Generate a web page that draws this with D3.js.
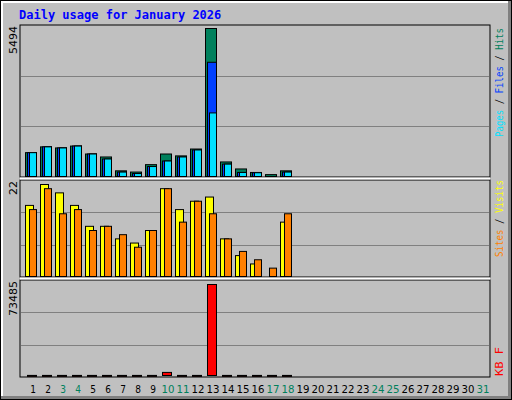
<!DOCTYPE html><html><head><script src="https://cdn.jsdelivr.net/npm/d3@7"></script>
<style>body{margin:0;background:#fff}</style></head><body><svg id="c" width="512" height="400"></svg>
<script>
const days=d3.range(1,32);
const weekend=[3,4,10,11,17,18,24,25,31];
const hits=[885,1100,1060,1130,835,725,210,165,440,835,765,1020,5494,540,280,150,70,210];
const files=[885,1100,1060,1130,835,650,165,110,370,575,725,985,4240,460,150,140,0,165];
const pages=[885,1100,1060,1130,835,650,165,110,370,575,725,985,2360,460,150,140,0,165];
const visits=[17,22,20,17,12,12,9,8,11,21,16,18,19,9,5,3,0,13];
const sites=[16,21,15,16,11,12,10,7,11,21,13,18,15,9,6,4,2,15];
const kbytes=[80,80,80,80,80,80,80,80,80,2500,80,80,73485,80,80,80,80,80];
const maxLabels=["5494","22","73485"];
const svg=d3.select("#c");
svg.append("rect").attr("x",0).attr("y",0).attr("width",512).attr("height",400).attr("fill","#000");
svg.append("rect").attr("x",1).attr("y",1).attr("width",510).attr("height",398).attr("fill","#808080");
svg.append("rect").attr("x",1).attr("y",1).attr("width",507).attr("height",395).attr("fill","#fff");
svg.append("rect").attr("x",3).attr("y",3).attr("width",505).attr("height",393).attr("fill","#c0c0c0");
svg.append("text").attr("x",19).attr("y",19).attr("fill","#0000ff").attr("font-family","DejaVu Sans Mono").attr("font-weight","bold").attr("font-size",12).text("Daily usage for January 2026");
const x=d3.scaleLinear().domain([1,31]).range([33,483]);
const L=20,R=490;
const panels=[{t:25,b:177},{t:180,b:277},{t:280,b:377}];
panels.forEach((p,i)=>{
  svg.append("rect").attr("x",L).attr("y",p.t).attr("width",R-L).attr("height",p.b-p.t).attr("fill","#c0c0c0").attr("stroke","#000");
  const h=p.b-p.t;
  [1/3,2/3].forEach(f=>svg.append("line").attr("x1",L+1).attr("x2",R-1).attr("y1",Math.round(p.b-h*f)+.5).attr("y2",Math.round(p.b-h*f)+.5).attr("stroke","#808080"));
  svg.append("text").attr("transform",`translate(17,${p.t+1}) rotate(-90)`).attr("text-anchor","end").attr("font-family","DejaVu Sans").attr("font-size",11).attr("fill","#000").text(maxLabels[i]);
});
[178.5,278.5].forEach(y=>svg.append("line").attr("x1",L).attr("x2",R).attr("y1",y).attr("y2",y).attr("stroke","#fff").attr("stroke-width",2));
function bars(data,y0,yscale,off,w,color){
  svg.append("g").selectAll("rect").data(data).join("rect")
   .attr("x",(d,i)=>x(i+1)+off+.5).attr("width",w)
   .attr("y",d=>yscale(d)+.5).attr("height",d=>Math.max(1,y0-yscale(d)))
   .attr("fill",color).attr("stroke","#000").attr("stroke-width",1)
   .attr("display",d=>d>0?null:"none");
}
const y1=d3.scaleLinear().domain([0,5494]).range([176,28]);
bars(hits,176,y1,-8,11,"#00805c");
bars(files,176,y1,-6,9,"#0040ff");
bars(pages,176,y1,-4,7,"#00e0ff");
const y2=d3.scaleLinear().domain([0,22]).range([276,184]);
bars(visits,276,y2,-8,8,"#ffff00");
bars(sites,276,y2,-4,7,"#ff8000");
const y3=d3.scaleLinear().domain([0,73485]).range([375,284]);
bars(kbytes,375,y3,-6,9,"#ff0000");
svg.append("g").selectAll("text").data(days).join("text").attr("x",d=>x(d)).attr("y",393).attr("text-anchor","middle")
 .attr("font-family","DejaVu Sans Condensed, DejaVu Sans").attr("font-size",10).attr("fill",d=>weekend.includes(d)?"#00805c":"#000")
 .attr("textLength",d=>d>9?13:null).attr("lengthAdjust","spacingAndGlyphs").text(d=>d);
function legend(parts,yEnd,len){
  const t=svg.append("text").attr("transform",`translate(503,${yEnd}) rotate(-90)`).attr("font-family","DejaVu Sans Mono").attr("font-size",10)
    .attr("textLength",len).attr("lengthAdjust","spacingAndGlyphs");
  parts.forEach(([s,c])=>t.append("tspan").attr("fill",c).text(s));
}
legend([["Pages","#00e0ff"],[" / ","#000"],["Files","#0040ff"],[" / ","#000"],["Hits","#00805c"]],137,109);
legend([["Sites","#ff8000"],[" / ","#000"],["Visits","#ffff00"]],257,77);
legend([["KB","#ff0000"],[" F","#ff0000"]],376,29);
</script></body></html>
